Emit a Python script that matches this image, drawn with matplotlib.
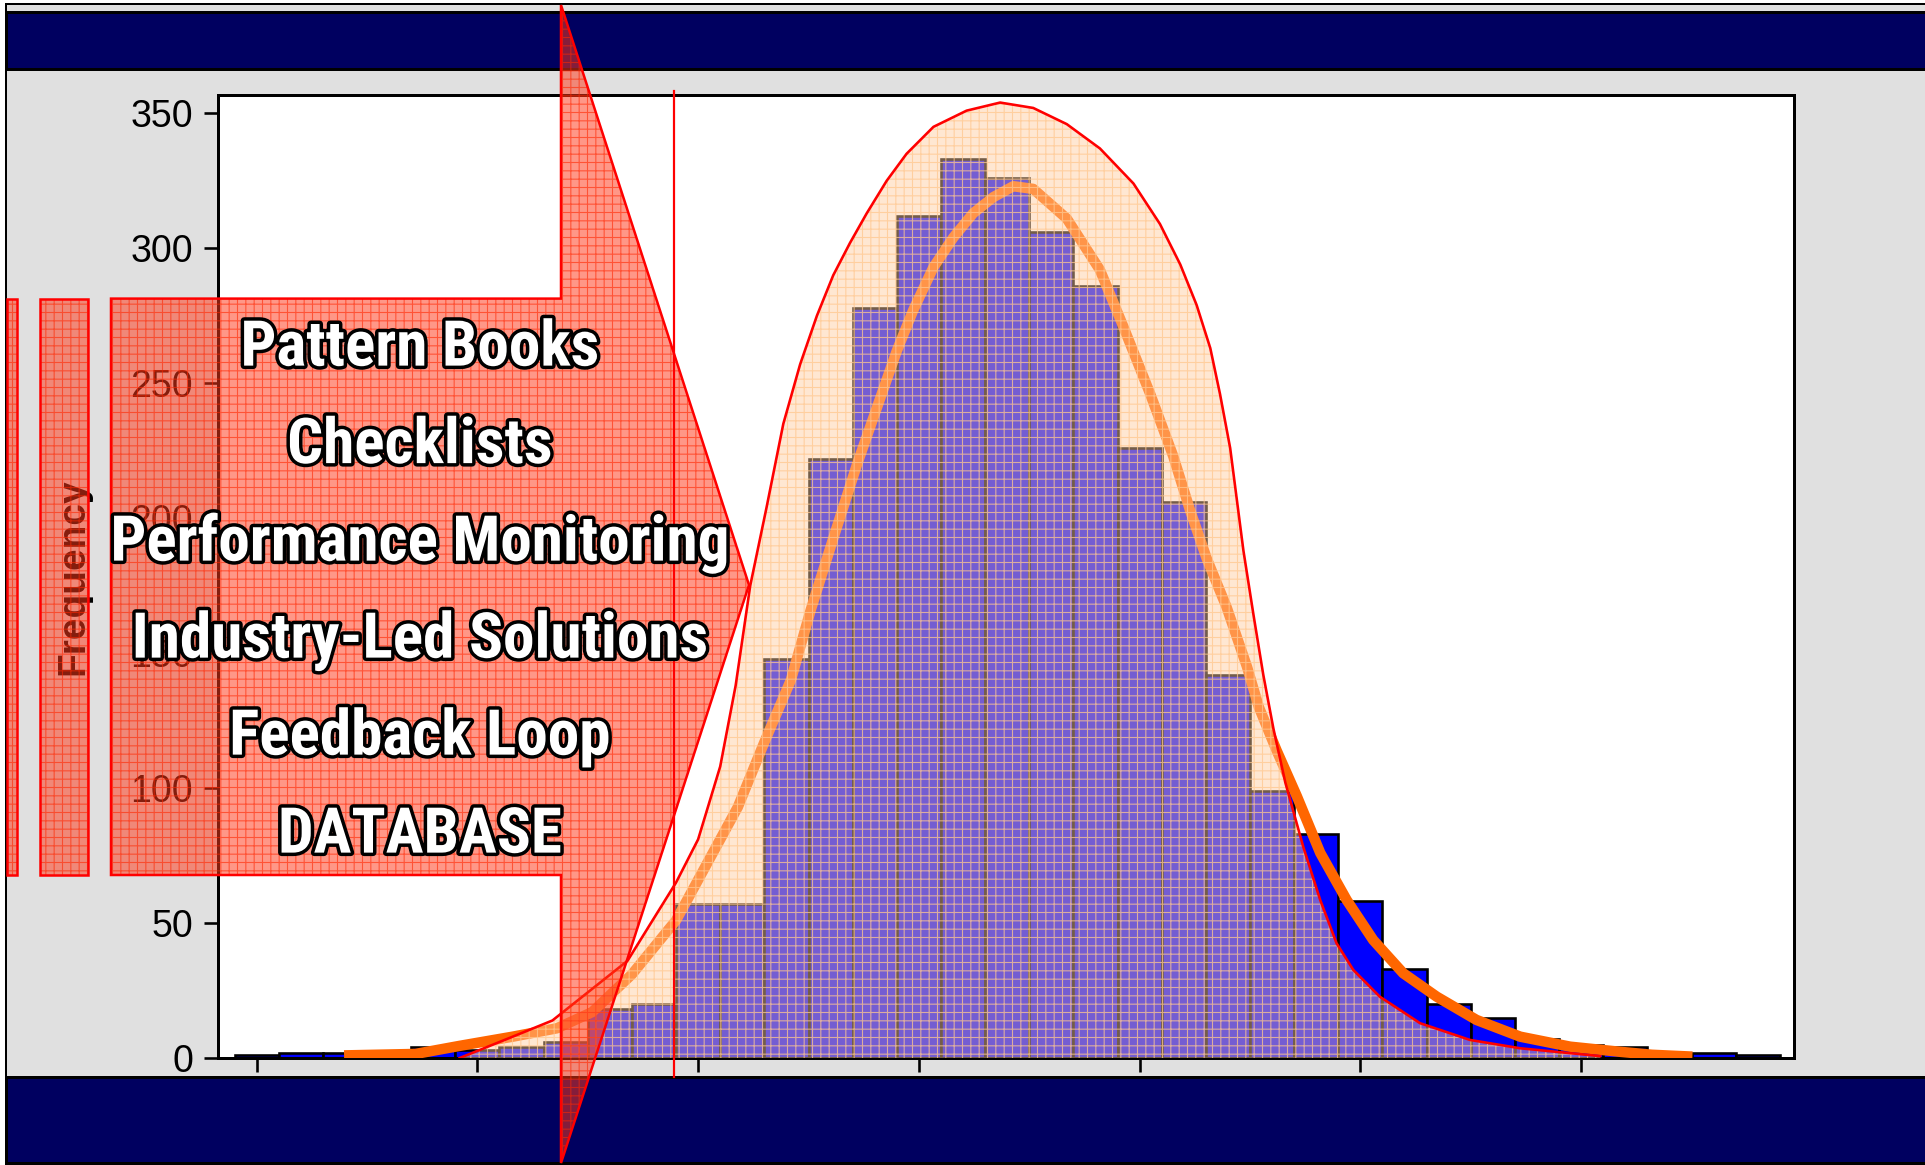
import matplotlib
matplotlib.use("Agg")
import matplotlib.pyplot as plt
from matplotlib.patches import Rectangle, Polygon
from matplotlib import patheffects as pe
from matplotlib import font_manager as fm

# ---------------- data ----------------
bin_index = list(range(35))
frequency = [1, 2, 2, 1, 4, 3, 4, 6, 18, 20, 57, 57, 148, 222, 278, 312, 333, 326,
             306, 286, 226, 206, 142, 99, 83, 58, 33, 20, 15, 7, 5, 4, 1, 2, 1]

fit_x = [2.1, 3.6, 4.6, 5.8, 6.8, 7.6, 8.5, 9.5, 10.2, 10.9, 11.5, 12.1, 12.55, 13.07,
         13.6, 14.05, 14.5, 14.87, 15.33, 15.78, 16.23, 16.69, 17.14, 17.59, 18.35, 19.1,
         19.63, 20.24, 20.76, 21.14, 21.52, 21.97, 22.43, 22.7, 23.1, 23.56, 24.09, 24.69,
         25.29, 25.97, 26.73, 27.63, 28.62, 29.75, 30.88, 31.6, 32.4]
fit_y = [1, 1.5, 4.5, 7.9, 11, 17, 31, 51, 72, 93, 117, 140, 166, 193, 220, 241, 262,
         277, 293, 304, 313, 319, 323, 322, 311, 292, 271, 246, 223, 203, 185, 167, 145,
         130, 114, 97, 76, 58.5, 43.7, 31.4, 22.7, 14.1, 7.9, 4.2, 2.3, 1.2, 0.6]

env_x = [4.6, 5.8, 6.7, 8.4, 9.5, 10.0, 10.5, 10.85, 11.18, 11.55, 11.93, 12.31, 12.69,
         13.06, 13.44, 13.82, 14.27, 14.72, 15.33, 16.08, 16.84, 17.59, 18.35, 19.1,
         19.86, 20.46, 20.92, 21.29, 21.6, 21.82, 22.05, 22.2, 22.35, 22.58, 22.8, 23.03,
         23.3, 23.71, 24.09, 24.46, 24.84, 25.44, 26.35, 27.48, 28.62, 30.43]
env_y = [0, 7.9, 13.9, 36, 65, 81, 108, 138, 175, 204, 235, 257, 275, 290, 302, 313,
         325, 335, 345, 351, 354, 352, 346, 337, 324, 309, 294, 279, 263, 246, 226, 207,
         188, 164, 142, 122, 102, 78, 58.5, 42.5, 32.6, 22.7, 12.9, 6.7, 3.6, 0.7]

y_ticks = [0, 50, 100, 150, 200, 250, 300, 350]
x_ticks = [0, 5, 10, 15, 20, 25, 30]
y_label = "Frequency"
arrow_lines = ["Pattern Books", "Checklists", "Performance Monitoring",
               "Industry-Led Solutions", "Feedback Loop", "DATABASE"]

# ---------------- fonts ----------------
avail = {f.name for f in fm.fontManager.ttflist}
bold_family, bold_size = "Liberation Sans", 37
for fam, size in [("Liberation Sans Narrow", 45.5), ("Roboto Condensed", 45.5)]:
    if fam in avail:
        bold_family, bold_size = fam, size
        break
plt.rcParams['font.family'] = ['Liberation Sans', 'DejaVu Sans']
plt.rcParams['hatch.linewidth'] = 0.8

W, H = 1925, 1165
fig = plt.figure(figsize=(W / 100, H / 100), dpi=100, facecolor='white')

def px(v):
    return v * 72 / 100.0

# ---------------- background ----------------
ax_bg = fig.add_axes([0, 0, 1, 1], zorder=0)
ax_bg.set_xlim(0, W)
ax_bg.set_ylim(H, 0)
ax_bg.axis('off')
ax_bg.add_patch(Rectangle((6, 4), W + 10, H + 10, facecolor='#E0E0E0',
                          edgecolor='black', linewidth=px(2)))
ax_bg.add_patch(Rectangle((6, 11.5), W + 10, 57.5, facecolor='#000060',
                          edgecolor='black', linewidth=px(3)))
ax_bg.add_patch(Rectangle((6, 1077), W + 10, 86, facecolor='#000060',
                          edgecolor='black', linewidth=px(3)))

# ---------------- main axes ----------------
L, R, T, B = 218, 1794, 95, 1058
ax = fig.add_axes([L / W, 1 - B / H, (R - L) / W, (B - T) / H], zorder=1)
ax.set_facecolor('white')
ax.bar(bin_index, frequency, width=1.0, color='#0000FF', edgecolor='black',
       linewidth=px(2.6), zorder=2)
ax.plot(fit_x, fit_y, color='#FF6600', linewidth=px(10.5), solid_joinstyle='round',
        zorder=3)
ax.fill_between(env_x, 0, env_y, facecolor=(1.0, 0.80, 0.62, 0.46),
                edgecolor=(1.0, 0.78, 0.56, 0.75), hatch='++', linewidth=0, zorder=4)
ax.plot(env_x, env_y, color='#FF0000', linewidth=px(2.6), zorder=5)

ax.set_xlim(-0.874, 34.82)
ax.set_ylim(0, 356.8)
ax.set_xticks(x_ticks)
ax.set_xticklabels([])
ax.set_yticks(y_ticks)
ax.tick_params(axis='both', direction='out', length=px(14), width=px(2.6),
               colors='black', labelsize=27, pad=8)
for s in ax.spines.values():
    s.set_linewidth(px(3))
    s.set_color('black')
ax.set_ylabel(y_label, fontsize=28, fontweight='bold', color='black')
ax.yaxis.set_label_coords((91 - L) / (R - L), 0.5)

# ---------------- overlay ----------------
ax_fg = fig.add_axes([0, 0, 1, 1], zorder=2)
ax_fg.set_xlim(0, W)
ax_fg.set_ylim(H, 0)
ax_fg.axis('off')

red_face = (1.0, 0.22, 0.10, 0.52)
red_hatch = (1.0, 0.15, 0.0, 0.6)
arrow_pts = [(111, 298.6), (561, 298.6), (561, 5), (749, 585), (561, 1163),
             (561, 875), (111, 875)]
shapes = [arrow_pts]
for x0, x1 in [(7, 17), (40, 88)]:
    shapes.append([(x0, 298.6), (x1, 298.6), (x1, 875), (x0, 875)])
for pts in shapes:
    ax_fg.add_patch(Polygon(pts, closed=True, facecolor=red_face, edgecolor=red_hatch,
                            hatch='++', linewidth=0, zorder=1))
    ax_fg.add_patch(Polygon(pts, closed=True, facecolor='none', edgecolor='#FF0000',
                            linewidth=px(2.5), zorder=1.5))
ax_fg.plot([674, 674], [91, 1077], color='#FF0000', linewidth=px(2.2), zorder=2)

cap_h = 0.716 * bold_size * 100 / 72
centers = [343, 440.5, 538, 635, 732, 830]
for line, cy in zip(arrow_lines, centers):
    ax_fg.text(420, cy + cap_h / 2, line, ha='center', va='baseline',
               fontsize=bold_size, fontweight='bold', family=[bold_family, 'DejaVu Sans'],
               color='white', zorder=3,
               path_effects=[pe.withStroke(linewidth=5, foreground='black')])

fig.savefig('out.png', dpi=100, facecolor='white')
